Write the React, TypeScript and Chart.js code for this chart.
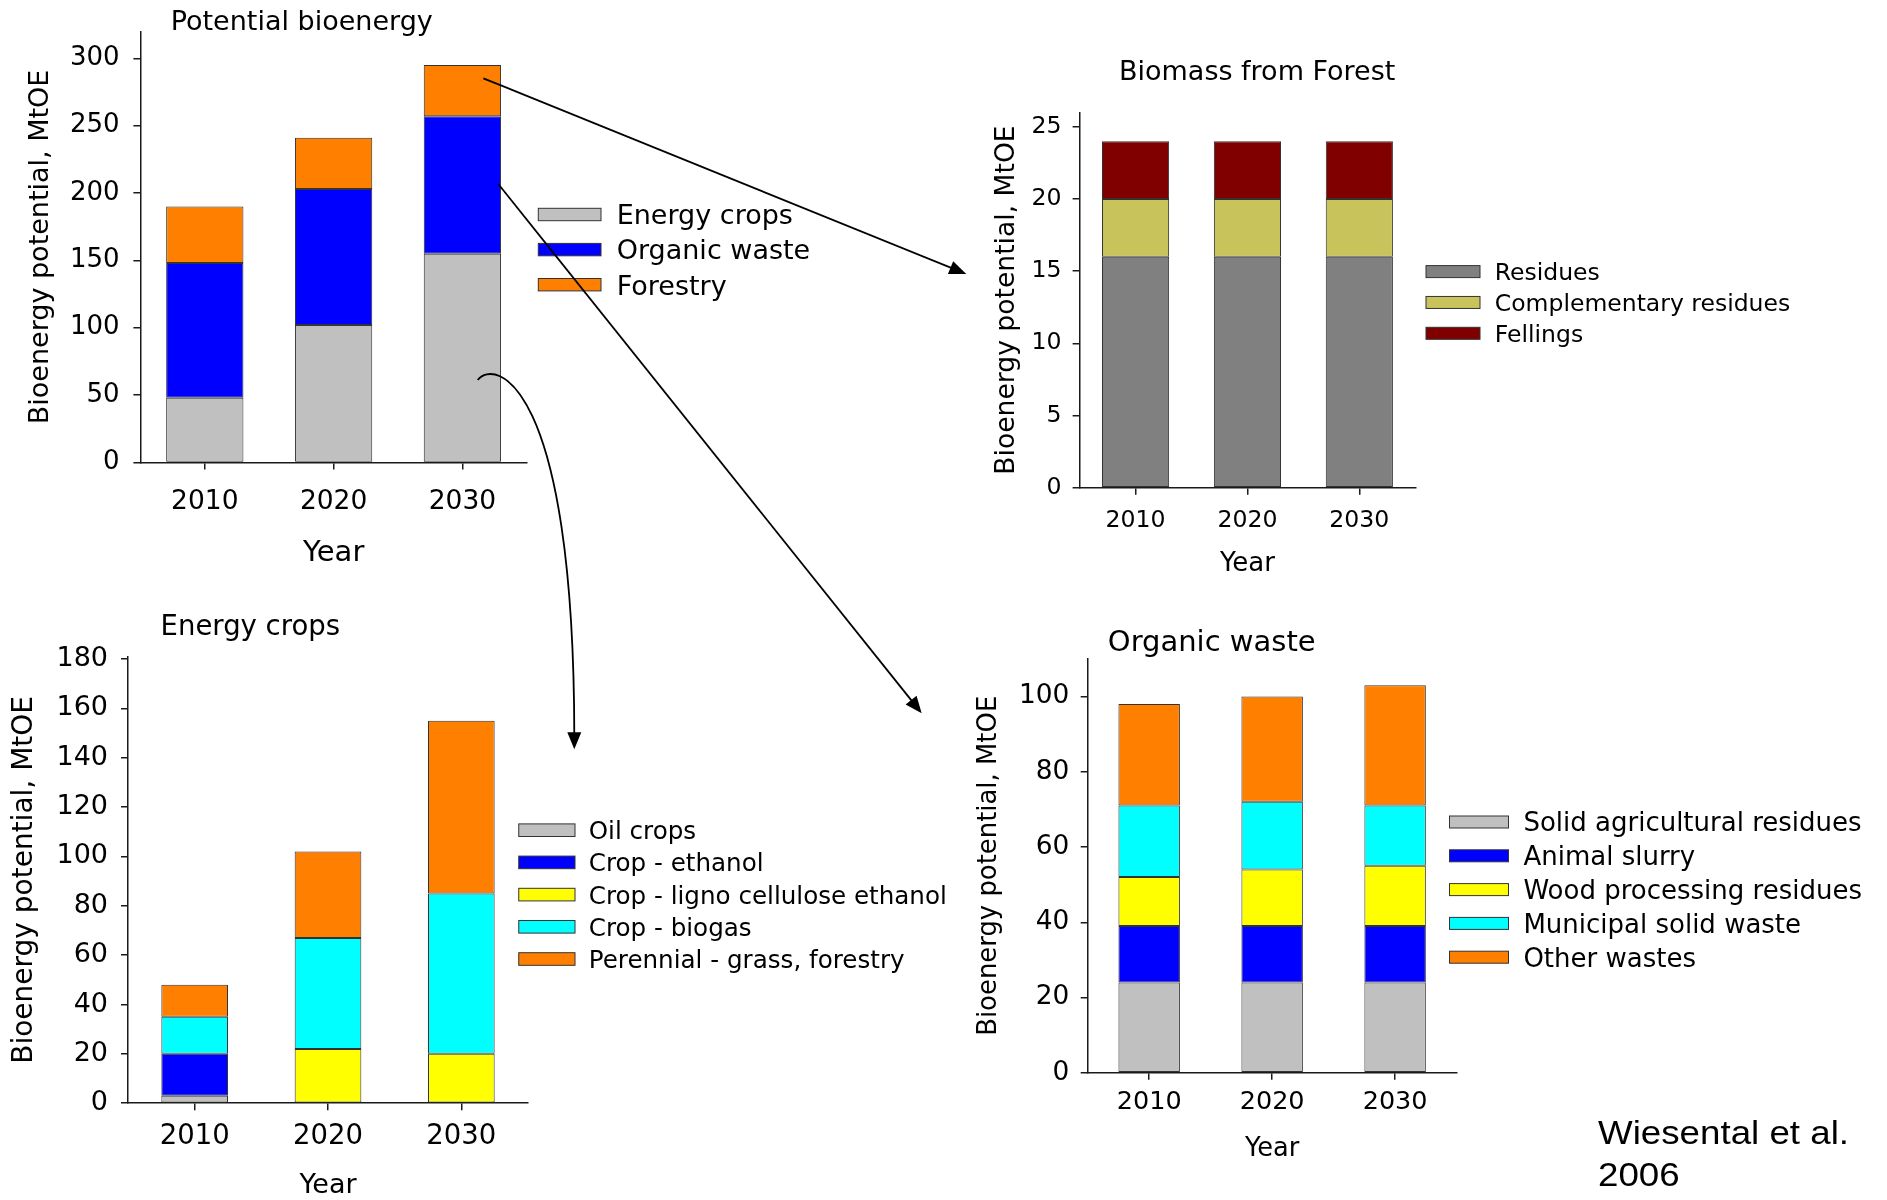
import React, { useEffect, useRef } from 'react';
import { Chart, registerables } from 'chart.js';

Chart.register(...registerables);
Chart.defaults.font.family = '"DejaVu Sans", Verdana, sans-serif';
Chart.defaults.color = '#000';

// ---- data (MtOE) ----
const years = ['2010', '2020', '2030'];

// Potential bioenergy
const potentialEnergyCrops = [48, 102, 155];
const potentialOrganicWaste = [100, 101, 102];
const potentialForestry = [42, 38, 38];

// Biomass from forest
const forestResidues = [16, 16, 16];
const forestComplementary = [4, 4, 4];
const forestFellings = [4, 4, 4];

// Energy crops
const cropsOil = [3, 0, 0];
const cropsEthanol = [17, 0, 0];
const cropsLigno = [0, 22, 20];
const cropsBiogas = [15, 45, 65];
const cropsPerennial = [13, 35, 70];

// Organic waste
const wasteSolidAgri = [24, 24, 24];
const wasteSlurry = [15, 15, 15];
const wasteWood = [13, 15, 16];
const wasteMunicipal = [19, 18, 16];
const wasteOther = [27, 28, 32];

// value axes: upper end and labelled step
const potentialAxis = { max: 320, step: 50 };
const forestAxis = { max: 26, step: 5 };
const cropsAxis = { max: 181, step: 20 };
const wasteAxis = { max: 110, step: 20 };

const Y_TITLE = 'Bioenergy potential, MtOE';
const X_TITLE = 'Year';

// ---- palette ----
const GRAY = '#C0C0C0';
const BLUE = '#0000FF';
const ORANGE = '#FF8000';
const YELLOW = '#FFFF00';
const CYAN = '#00FFFF';
const DARKGRAY = '#808080';
const KHAKI = '#C8C35A';
const MAROON = '#800000';
const AXIS = '#1a1a1a';
const EDGE = '#333333';

type Series = { label: string; data: number[]; color: string };

type PanelSpec = {
  key: string;
  canvas: { x: number; y: number; w: number; h: number };
  plot: { l: number; t: number; r: number; b: number };
  axis: { max: number; step: number };
  barFrac: number;
  series: Series[];
  fonts: { yTick: number; xTick: number; yTitle: number; xTitle: number; title: number; legend: number };
  yTickPad: number;
  xTickPad: number;
  yTitleCx: number;
  xTitleCy: number;
  title: { text: string; x: number; baseline: number };
  legend: { boxX: number; boxW: number; boxH: number; y0: number; pitch: number; textX: number };
};

const panels: PanelSpec[] = [
  {
    key: 'potential',
    canvas: { x: 0, y: 0, w: 880, h: 580 },
    plot: { l: 140.4, t: 31.4, r: 526.8, b: 462.4 },
    axis: potentialAxis,
    barFrac: 0.6,
    series: [
      { label: 'Energy crops', data: potentialEnergyCrops, color: GRAY },
      { label: 'Organic waste', data: potentialOrganicWaste, color: BLUE },
      { label: 'Forestry', data: potentialForestry, color: ORANGE },
    ],
    fonts: { yTick: 26, xTick: 26.5, yTitle: 27, xTitle: 29, title: 27, legend: 27 },
    yTickPad: 13.8,
    xTickPad: 16.7,
    yTitleCx: 41,
    xTitleCy: 553,
    title: { text: 'Potential bioenergy', x: 170.7, baseline: 29.8 },
    legend: { boxX: 538.3, boxW: 62.7, boxH: 12.4, y0: 214.5, pitch: 35.1, textX: 616.7 },
  },
  {
    key: 'forest',
    canvas: { x: 960, y: 40, w: 927, h: 560 },
    plot: { l: 1079.6, t: 112.3, r: 1415.3, b: 487.7 },
    axis: forestAxis,
    barFrac: 0.6,
    series: [
      { label: 'Residues', data: forestResidues, color: DARKGRAY },
      { label: 'Complementary residues', data: forestComplementary, color: KHAKI },
      { label: 'Fellings', data: forestFellings, color: MAROON },
    ],
    fonts: { yTick: 23.6, xTick: 23.6, yTitle: 26.6, xTitle: 26, title: 27, legend: 23.5 },
    yTickPad: 11.1,
    xTickPad: 12.1,
    yTitleCx: 1006.6,
    xTitleCy: 564.2,
    title: { text: 'Biomass from Forest', x: 1119, baseline: 80.3 },
    legend: { boxX: 1426, boxW: 54, boxH: 12, y0: 271.6, pitch: 30.85, textX: 1494.8 },
  },
  {
    key: 'crops',
    canvas: { x: 0, y: 600, w: 960, h: 602 },
    plot: { l: 128, t: 656.6, r: 528, b: 1103.2 },
    axis: cropsAxis,
    barFrac: 0.5,
    series: [
      { label: 'Oil crops', data: cropsOil, color: GRAY },
      { label: 'Crop - ethanol', data: cropsEthanol, color: BLUE },
      { label: 'Crop - ligno cellulose ethanol', data: cropsLigno, color: YELLOW },
      { label: 'Crop - biogas', data: cropsBiogas, color: CYAN },
      { label: 'Perennial - grass, forestry', data: cropsPerennial, color: ORANGE },
    ],
    fonts: { yTick: 27, xTick: 27.5, yTitle: 28, xTitle: 27, title: 27.5, legend: 24.6 },
    yTickPad: 13,
    xTickPad: 10.3,
    yTitleCx: 25,
    xTitleCy: 1185.5,
    title: { text: 'Energy crops', x: 160.6, baseline: 635.2 },
    legend: { boxX: 518.75, boxW: 56.25, boxH: 12.6, y0: 830.2, pitch: 32.2, textX: 588.75 },
  },
  {
    key: 'waste',
    canvas: { x: 960, y: 600, w: 927, h: 600 },
    plot: { l: 1087.7, t: 658.8, r: 1456.6, b: 1072.8 },
    axis: wasteAxis,
    barFrac: 0.5,
    series: [
      { label: 'Solid agricultural residues', data: wasteSolidAgri, color: GRAY },
      { label: 'Animal slurry', data: wasteSlurry, color: BLUE },
      { label: 'Wood processing residues', data: wasteWood, color: YELLOW },
      { label: 'Municipal solid waste', data: wasteMunicipal, color: CYAN },
      { label: 'Other wastes', data: wasteOther, color: ORANGE },
    ],
    fonts: { yTick: 26.4, xTick: 25.5, yTitle: 25.9, xTitle: 25.7, title: 29, legend: 26 },
    yTickPad: 11.3,
    xTickPad: 7.6,
    yTitleCx: 989.6,
    xTitleCy: 1149.7,
    title: { text: 'Organic waste', x: 1107.8, baseline: 651.4 },
    legend: { boxX: 1449.5, boxW: 59, boxH: 12, y0: 822, pitch: 33.8, textX: 1523.4 },
  },
];

// Draws the panel heading and the stacked legend beside the plot.
const panelText = {
  id: 'panelText',
  afterDraw(chart: any, _args: any, opts: any) {
    const { ctx } = chart;
    const ox = opts.ox as number;
    const oy = opts.oy as number;
    ctx.save();
    ctx.textAlign = 'left';
    ctx.textBaseline = 'alphabetic';
    ctx.fillStyle = '#000';
    ctx.font = `${opts.titleSize}px "DejaVu Sans", Verdana, sans-serif`;
    ctx.fillText(opts.titleText, opts.titleX - ox, opts.titleBaseline - oy);

    ctx.font = `${opts.legendSize}px "DejaVu Sans", Verdana, sans-serif`;
    chart.data.datasets.forEach((ds: any, i: number) => {
      const cy = opts.legendY0 + i * opts.legendPitch - oy;
      const bx = opts.boxX - ox;
      const by = cy - opts.boxH / 2;
      ctx.fillStyle = ds.backgroundColor;
      ctx.fillRect(bx, by, opts.boxW, opts.boxH);
      ctx.strokeStyle = EDGE;
      ctx.lineWidth = 1;
      ctx.strokeRect(bx, by, opts.boxW, opts.boxH);
      ctx.fillStyle = '#000';
      ctx.fillText(ds.label, opts.textX - ox, cy + 0.3645 * opts.legendSize);
    });
    ctx.restore();
  },
};

function buildConfig(p: PanelSpec): any {
  const yW = p.plot.l - (p.yTitleCx - 0.6 * p.fonts.yTitle);
  const xH = p.xTitleCy - p.plot.b + 0.6 * p.fonts.xTitle;
  const padding = {
    left: p.plot.l - yW - p.canvas.x,
    top: p.plot.t - p.canvas.y,
    right: p.canvas.x + p.canvas.w - p.plot.r,
    bottom: p.canvas.y + p.canvas.h - p.plot.b - xH,
  };
  const { max, step } = p.axis;
  const lineGrid = {
    drawOnChartArea: false,
    drawTicks: true,
    tickLength: 7,
    color: AXIS,
    lineWidth: 1.5,
  };
  return {
    type: 'bar',
    data: {
      labels: years,
      datasets: p.series.map((s) => ({
        label: s.label,
        data: s.data,
        backgroundColor: s.color,
        borderColor: EDGE,
        borderWidth: 1,
        borderSkipped: false,
        categoryPercentage: 1,
        barPercentage: p.barFrac,
      })),
    },
    options: {
      responsive: false,
      animation: false,
      devicePixelRatio: 1,
      layout: { padding },
      events: [],
      plugins: {
        legend: { display: false },
        title: { display: false },
        tooltip: { enabled: false },
        panelText: {
          ox: p.canvas.x,
          oy: p.canvas.y,
          titleText: p.title.text,
          titleX: p.title.x,
          titleBaseline: p.title.baseline,
          titleSize: p.fonts.title,
          legendSize: p.fonts.legend,
          legendY0: p.legend.y0,
          legendPitch: p.legend.pitch,
          boxX: p.legend.boxX,
          boxW: p.legend.boxW,
          boxH: p.legend.boxH,
          textX: p.legend.textX,
        },
      },
      scales: {
        x: {
          stacked: true,
          offset: true,
          grid: { ...lineGrid, offset: false },
          border: { display: true, color: AXIS, width: 1.5 },
          ticks: {
            font: { size: p.fonts.xTick },
            padding: p.xTickPad,
            maxRotation: 0,
            autoSkip: false,
            color: '#000',
          },
          title: {
            display: true,
            text: X_TITLE,
            font: { size: p.fonts.xTitle },
            padding: 0,
            color: '#000',
          },
          afterFit: (s: any) => {
            s.height = xH;
          },
        },
        y: {
          stacked: true,
          min: 0,
          max,
          bounds: 'data',
          grid: lineGrid,
          border: { display: true, color: AXIS, width: 1.5 },
          ticks: {
            stepSize: step,
            font: { size: p.fonts.yTick },
            padding: p.yTickPad,
            color: '#000',
          },
          // labelled values are the whole steps below the axis top
          afterBuildTicks: (s: any) => {
            const out: { value: number }[] = [];
            for (let i = 0; i * step <= max + 1e-9; i++) out.push({ value: i * step });
            s.ticks = out;
          },
          title: {
            display: true,
            text: Y_TITLE,
            font: { size: p.fonts.yTitle },
            padding: 0,
            color: '#000',
          },
          afterFit: (s: any) => {
            s.width = yW;
          },
        },
      },
    },
    plugins: [panelText],
  };
}

function Panel({ spec }: { spec: PanelSpec }) {
  const ref = useRef<HTMLCanvasElement>(null);
  useEffect(() => {
    const chart = new Chart(ref.current as HTMLCanvasElement, buildConfig(spec));
    return () => chart.destroy();
  }, [spec]);
  return (
    <canvas
      ref={ref}
      width={spec.canvas.w}
      height={spec.canvas.h}
      style={{
        position: 'absolute',
        left: spec.canvas.x,
        top: spec.canvas.y,
        width: spec.canvas.w,
        height: spec.canvas.h,
      }}
    />
  );
}

// Connector arrows linking the summary bars to the detail panels.
function headPoints(tipX: number, tipY: number, dx: number, dy: number, len = 17, half = 7) {
  const n = Math.hypot(dx, dy);
  const ux = dx / n;
  const uy = dy / n;
  const bx = tipX - ux * len;
  const by = tipY - uy * len;
  return {
    base: [tipX - ux * len * 0.8, tipY - uy * len * 0.8],
    pts: `${tipX},${tipY} ${bx - uy * half},${by + ux * half} ${bx + uy * half},${by - ux * half}`,
  };
}

function Arrows() {
  const a1 = { x1: 483.4, y1: 78.3, x2: 966.3, y2: 274 };
  const a2 = { x1: 498.3, y1: 184, x2: 921.7, y2: 713.3 };
  const h1 = headPoints(a1.x2, a1.y2, a1.x2 - a1.x1, a1.y2 - a1.y1);
  const h2 = headPoints(a2.x2, a2.y2, a2.x2 - a2.x1, a2.y2 - a2.y1);
  const h3 = headPoints(574.3, 749.3, 0, 1);
  return (
    <svg
      width={1887}
      height={1200}
      style={{ position: 'absolute', left: 0, top: 0, pointerEvents: 'none' }}
    >
      <line x1={a1.x1} y1={a1.y1} x2={h1.base[0]} y2={h1.base[1]} stroke="#000" strokeWidth={1.8} />
      <polygon points={h1.pts} fill="#000" />
      <line x1={a2.x1} y1={a2.y1} x2={h2.base[0]} y2={h2.base[1]} stroke="#000" strokeWidth={1.8} />
      <polygon points={h2.pts} fill="#000" />
      <path
        d={`M 477.7 380 C 495 358, 574 380, 574.3 ${h3.base[1]}`}
        stroke="#000"
        strokeWidth={1.8}
        fill="none"
      />
      <polygon points={h3.pts} fill="#000" />
    </svg>
  );
}

const citeStyle: React.CSSProperties = {
  position: 'absolute',
  left: 1598,
  fontFamily: '"Liberation Sans", Arial, sans-serif',
  fontSize: 34,
  lineHeight: '34px',
  color: '#000',
  whiteSpace: 'nowrap',
  transform: 'scaleX(1.08)',
  transformOrigin: 'left center',
};

export default function App() {
  return (
    <div
      style={{
        position: 'absolute',
        left: 0,
        top: 0,
        width: 1887,
        height: 1200,
        overflow: 'hidden',
        background: '#fff',
      }}
    >
      {panels.map((p) => (
        <Panel key={p.key} spec={p} />
      ))}
      <Arrows />
      <div style={{ ...citeStyle, top: 1114.6 }}>Wiesental et al.</div>
      <div style={{ ...citeStyle, top: 1157.2 }}>2006</div>
    </div>
  );
}
